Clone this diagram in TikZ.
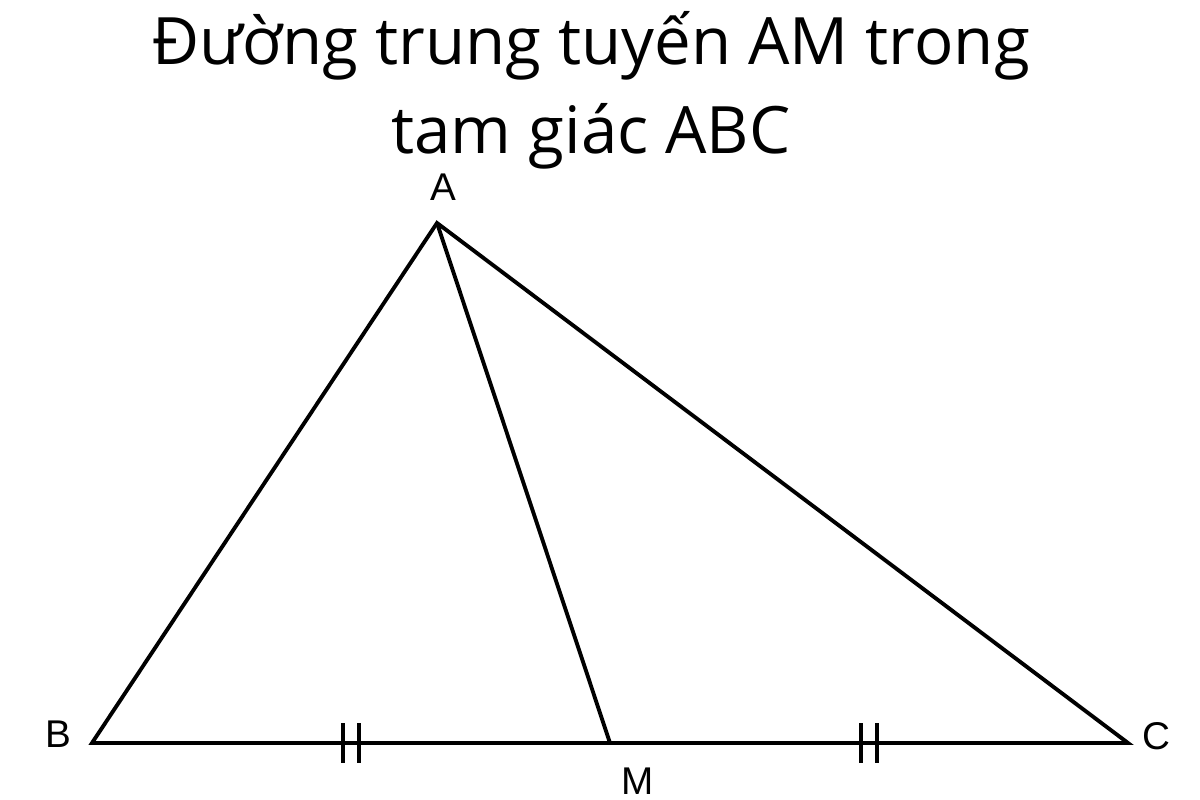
\documentclass[tikz,border=0pt]{standalone}
\usepackage{fontspec}
\setmainfont{Open Sans}
\newfontfamily\labelfont{Liberation Sans}
\usetikzlibrary{calc}
\tikzset{>=stealth}
\tikzset{seg/.style={line width=1.1pt,black},
  tick/.style={line width=1.1pt,black},
  vlabel/.style={font=\labelfont\fontsize{11}{13}\selectfont,inner sep=0pt}}

\begin{document}
\begin{tikzpicture}
\useasboundingbox (0,0) rectangle (12,8);
\node[align=center,font=\fontsize{18.6}{25.3}\selectfont] (title) at (5.91,7.1) {Đường trung tuyến AM trong\\tam giác ABC};
\coordinate (A) at (4.37,5.77);
\coordinate (B) at (.92,.57);
\coordinate (C) at (11.28,.57);
\coordinate (M) at ($(B)!.5!(C)$);
\draw[seg] (B) -- (A) -- (C) -- cycle;
\draw[seg] (A) -- (M);
\coordinate (T1) at ($(B)!.5!(M)$);
\coordinate (T2) at ($(M)!.5!(C)$);
\foreach \t in {T1,T2}{
\draw[tick] ($(\t)+(-.08,-.2)$) -- ($(\t)+(-.08,.2)$);
\draw[tick] ($(\t)+(.08,-.2)$) -- ($(\t)+(.08,.2)$);
}
\node[vlabel] (lA) at (4.435,6.125) {A};
\node[vlabel] (lB) at (.585,.66) {B};
\node[vlabel] (lC) at (11.565,.64) {C};
\node[vlabel] (lM) at (6.375,.185) {M};
\end{tikzpicture}
\end{document}
